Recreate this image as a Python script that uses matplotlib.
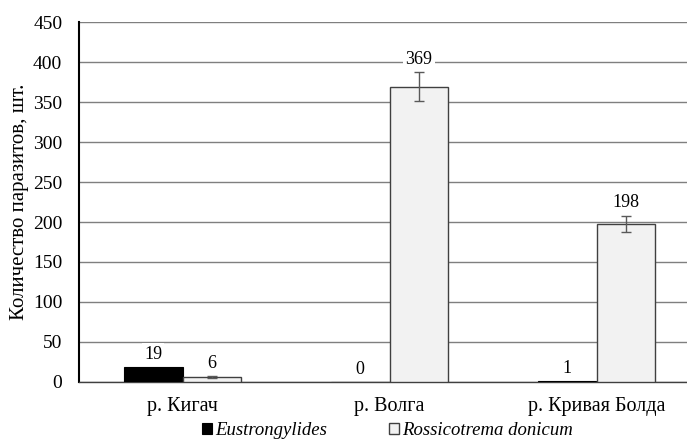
import numpy as np
import matplotlib.pyplot as plt

rivers = ['р. Кигач', 'р. Волга', 'р. Кривая Болда']
eustrongylides = [19, 0, 1]
rossicotrema = [6, 369, 198]
rossicotrema_err = [1, 18, 10]
yticks = np.arange(0, 451, 50)

plt.rcParams['font.family'] = ['Liberation Serif', 'DejaVu Serif']

fig = plt.figure(figsize=(6.87, 4.45), dpi=100)
ax = fig.add_axes([79 / 687, 63 / 445, 608 / 687, 360 / 445])

x = np.arange(len(rivers))
w = 0.285
b1 = ax.bar(x - w / 2, eustrongylides, w, color='black', edgecolor='black',
            linewidth=0.8, label='Eustrongylides', zorder=3)
b2 = ax.bar(x + w / 2, rossicotrema, w, color='#f2f2f2', edgecolor='#404040',
            linewidth=1.0, label='Rossicotrema donicum', zorder=3,
            yerr=rossicotrema_err,
            error_kw=dict(ecolor='#595959', elinewidth=1, capsize=3.5, capthick=1, zorder=4))

for bars in (b1, b2):
    for t in ax.bar_label(bars, padding=3, fontsize=13):
        t.set_bbox(dict(facecolor='white', edgecolor='none', pad=1.5))
        t.set_zorder(5)

ax.set_ylim(0, 450)
ax.set_yticks(yticks)
ax.set_xlim(-0.5, -0.5 + 608 / 207)
ax.set_xticks(x)
ax.set_xticklabels(rivers, fontsize=14.5)
ax.tick_params(axis='y', length=0, labelsize=14, pad=12)
ax.tick_params(axis='x', length=0, pad=11)
ax.yaxis.grid(True, color='#7f7f7f', linewidth=1.0, zorder=0)
ax.set_axisbelow(True)
for s in ['top', 'right']:
    ax.spines[s].set_visible(False)
ax.spines['left'].set_color('black')
ax.spines['left'].set_linewidth(1.5)
ax.spines['bottom'].set_color('#404040')
ax.spines['bottom'].set_linewidth(1.0)

ax.set_ylabel('Количество паразитов, шт.', fontsize=15, labelpad=3)

leg = fig.legend(handles=[b1, b2], loc='lower center', bbox_to_anchor=(387 / 687, -0.012),
                 ncol=2, frameon=False, handlelength=0.55, handleheight=0.55,
                 handletextpad=0.15, columnspacing=3.3, borderpad=0.1,
                 prop=dict(family='Liberation Serif', style='italic', size=13.5))

fig.savefig('out.png', dpi=100)
